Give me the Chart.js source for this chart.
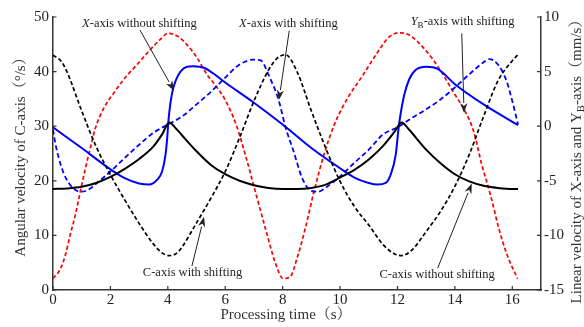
<!DOCTYPE html>
<html><head><meta charset="utf-8">
<script src="https://cdn.jsdelivr.net/npm/chart.js@4.4.1/dist/chart.umd.min.js"></script>
<style>html,body{margin:0;padding:0;background:#fff;}canvas{display:block;}</style>
</head><body>
<canvas id="c" width="584" height="327"></canvas>
<script>
// ---- tick labels ----
const xTicks = [0, 2, 4, 6, 8, 10, 12, 14, 16];
const leftTicks = [0, 10, 20, 30, 40, 50];
const rightTicks = [-15, -10, -5, 0, 5, 10];

// ---- C-axis without shifting (left axis, °/s) ----
const cNoShiftT = [0,0.5,1,1.5,2,2.5,3,3.5,3.8,4.05,4.3,4.5,5,5.5,6,6.5,7,7.5,8,8.5,9,9.5,10,10.5,11,11.5,11.9,12.15,12.4,12.5,13,13.5,14,14.5,15,15.5,16,16.2];
const cNoShiftV = [18.5,18.6,18.9,19.6,20.7,22.2,24.0,26.3,28.5,30.7,29.5,28.3,25.4,22.9,21.2,20.0,19.2,18.7,18.5,18.5,18.7,19.3,20.6,22.0,23.9,26.4,29.0,30.7,29.4,28.8,25.7,23.2,21.2,19.9,19.1,18.7,18.5,18.5];

// ---- C-axis with shifting (left axis, °/s) ----
const cShiftT = [0,0.3,0.5,1,1.5,2,2.5,3,3.5,3.8,4.05,4.3,4.5,5,5.5,6,6.5,7,7.5,7.8,8.1,8.5,9,9.5,10,10.5,11,11.5,11.9,12.15,12.5,13,13.5,14,14.5,15,15.5,16,16.2];
const cShiftV = [43.0,41.8,39.8,32.8,26.3,21.1,16.5,12.2,8.4,6.8,6.3,6.7,7.9,12.3,16.8,21.7,27.9,34.6,40.2,42.4,43.1,40.0,32.8,26.0,19.9,15.3,11.9,8.3,6.6,6.3,7.3,10.7,14.4,19.0,24.8,31.8,38.3,42.0,43.1];

// ---- X-axis without shifting (right axis, mm/s) ----
const xNoShiftT = [0,1,2,2.5,3,3.34,3.63,3.8,3.92,3.98,4.01,4.07,4.15,4.27,4.44,4.67,4.9,5.26,5.6,6,7,8,9,10,10.5,11,11.3,11.59,11.76,11.94,12.04,12.12,12.24,12.41,12.65,13,13.4,14,15,16.2];
const xNoShiftV = [-0.1,-2.0,-3.95,-4.75,-5.25,-5.35,-4.9,-4.15,-2.6,-1.05,0.15,1.7,3.05,4.15,5.0,5.45,5.5,5.35,4.8,4.0,2.15,0.15,-2.0,-3.85,-4.7,-5.2,-5.35,-5.2,-4.45,-2.6,-0.15,1.3,2.9,4.3,5.2,5.45,5.25,3.85,2.0,0.1];

// ---- X-axis with shifting (right axis, mm/s) ----
const xShiftT = [0,0.08,0.2,0.37,0.55,0.78,1.0,1.24,1.53,2,2.5,3,3.5,4,4.5,5,5.5,6,6.5,7.0,7.25,7.51,7.86,8.09,8.38,8.68,8.98,9.22,9.57,10,10.5,11,11.5,12,12.5,13,13.5,14,14.5,15,15.2,15.5,15.8,16,16.2];
const xShiftV = [-0.3,-1.55,-2.9,-4.3,-5.2,-5.85,-6.0,-5.8,-5.2,-4.15,-2.9,-1.7,-0.6,0.15,0.9,2.0,3.15,4.45,5.65,6.1,6.0,4.7,2.4,0.0,-2.3,-4.75,-5.9,-6.0,-5.5,-4.6,-3.35,-2.15,-0.75,-0.1,0.75,1.55,2.45,3.55,4.75,5.85,6.15,5.65,4.15,2.3,0.15];

// ---- YB-axis with shifting (right axis, mm/s) ----
const yShiftT = [0,0.26,0.43,0.6,0.78,0.95,1.13,1.3,1.48,1.77,2.12,2.47,2.93,3.4,3.74,4.0,4.33,4.67,5.02,5.37,5.66,6.02,6.38,6.73,7.08,7.43,7.73,8.02,8.26,8.5,8.79,9.09,9.44,9.8,10.27,10.74,11.24,11.7,12.06,12.41,13.0,13.47,14.0,14.35,14.65,14.94,15.24,15.53,15.82,16.18];
const yShiftV = [-13.95,-13.05,-11.8,-9.95,-8.1,-6.0,-3.85,-2.0,-0.15,1.65,3.05,4.3,5.65,7.05,7.95,8.5,8.25,7.45,6.25,4.7,3.75,2.3,0.15,-2.9,-6.3,-9.65,-12.4,-13.95,-13.8,-12.1,-9.35,-6.0,-2.6,0.15,2.6,4.45,6.5,8.15,8.55,8.35,6.9,5.2,2.9,1.4,-0.45,-3.55,-6.3,-9.35,-11.8,-13.95];

// ---- annotations (positions in data units of x / left axis) ----
const annotations = [
  {parts:[{t:'X',it:true},{t:'-axis without shifting'}], at:[3.01,48.75], from:[3.03,47.6], to:[4.215,36.5]},
  {parts:[{t:'X',it:true},{t:'-axis with shifting'}], at:[8.2,48.75], from:[8.23,47.5], to:[7.87,34.8]},
  {parts:[{t:'Y',it:true},{t:'B',sub:true},{t:'-axis with shifting'}], at:[14.27,49.1], from:[14.24,47.0], to:[14.32,32.4]},
  {parts:[{t:'C-axis with shifting'}], at:[4.86,3.1], from:[4.84,4.4], to:[5.26,13.4]},
  {parts:[{t:'C-axis without shifting'}], at:[13.38,2.75], from:[13.4,4.0], to:[14.59,19.5]}
];

const SERIF = "'Liberation Serif','Times New Roman','Noto Serif CJK SC','Noto Sans CJK SC',serif";
const pts = (ts, vs) => ts.map((t, i) => ({x: t, y: vs[i]}));

function drawParts(ctx, parts, cx, cy, size) {
  const fontOf = p => (p.it ? 'italic ' : '') + (p.sub ? size * 0.72 : size) + 'px ' + SERIF;
  let total = 0;
  parts.forEach(p => { ctx.font = fontOf(p); p._w = ctx.measureText(p.t).width; total += p._w; });
  let x = cx - total / 2;
  ctx.textAlign = 'left'; ctx.textBaseline = 'middle';
  parts.forEach(p => {
    ctx.font = fontOf(p);
    ctx.fillText(p.t, x, cy + (p.sub ? size * 0.3 : 0));
    x += p._w;
  });
}

const deco = {
  id: 'deco',
  afterDraw(chart) {
    const {ctx, chartArea: a, scales: {x, y, y2}} = chart;
    ctx.save();
    // tick marks
    ctx.strokeStyle = '#333'; ctx.lineWidth = 1.2;
    ctx.beginPath();
    xTicks.forEach(v => { const p = x.getPixelForValue(v); ctx.moveTo(p, a.bottom); ctx.lineTo(p, a.bottom - 4); });
    leftTicks.forEach(v => { const p = y.getPixelForValue(v); ctx.moveTo(a.left, p); ctx.lineTo(a.left + 3.5, p); });
    rightTicks.forEach(v => { const p = y2.getPixelForValue(v); ctx.moveTo(a.right, p); ctx.lineTo(a.right - 4, p); });
    ctx.stroke();

    // axis titles
    ctx.fillStyle = '#333';
    drawParts(ctx, [{t:'Processing time（s）'}], 286, 315, 15);
    ctx.save(); ctx.translate(21, 153.5); ctx.rotate(-Math.PI / 2);
    drawParts(ctx, [{t:'Angular velocity of C-axis（°/s）'}], 0, 0, 15);
    ctx.restore();
    ctx.save(); ctx.translate(577, 158); ctx.rotate(-Math.PI / 2);
    drawParts(ctx, [{t:'Linear velocity of X-axis and Y'},{t:'B',sub:true},{t:'-axis（mm/s）'}], 0, 0, 15);
    ctx.restore();

    // annotations
    ctx.fillStyle = '#222'; ctx.strokeStyle = '#222'; ctx.lineWidth = 1;
    annotations.forEach(an => {
      drawParts(ctx, an.parts, x.getPixelForValue(an.at[0]), y.getPixelForValue(an.at[1]), 12.5);
      const x1 = x.getPixelForValue(an.from[0]), y1 = y.getPixelForValue(an.from[1]);
      const x2 = x.getPixelForValue(an.to[0]), y2p = y.getPixelForValue(an.to[1]);
      const ang = Math.atan2(y2p - y1, x2 - x1), L = 10, W = 3.6;
      const bx = x2 - L * Math.cos(ang), by = y2p - L * Math.sin(ang);
      ctx.beginPath(); ctx.moveTo(x1, y1); ctx.lineTo(bx, by); ctx.stroke();
      ctx.beginPath();
      ctx.moveTo(x2, y2p);
      ctx.lineTo(bx + W * Math.sin(ang), by - W * Math.cos(ang));
      ctx.lineTo(x2 - 0.7 * L * Math.cos(ang), y2p - 0.7 * L * Math.sin(ang));
      ctx.lineTo(bx - W * Math.sin(ang), by + W * Math.cos(ang));
      ctx.closePath(); ctx.fill();
    });
    ctx.restore();
  }
};

const common = {pointRadius: 0, fill: false, cubicInterpolationMode: 'monotone', borderCapStyle: 'butt'};

new Chart(document.getElementById('c'), {
  type: 'line',
  data: {
    datasets: [
      {...common, label: 'C-axis without shifting', data: pts(cNoShiftT, cNoShiftV), yAxisID: 'y', borderColor: '#000', borderWidth: 2},
      {...common, label: 'C-axis with shifting', data: pts(cShiftT, cShiftV), yAxisID: 'y', borderColor: '#000', borderWidth: 1.7, borderDash: [4, 2.5]},
      {...common, label: 'X-axis without shifting', data: pts(xNoShiftT, xNoShiftV), yAxisID: 'y2', borderColor: '#0000ff', borderWidth: 2},
      {...common, label: 'X-axis with shifting', data: pts(xShiftT, xShiftV), yAxisID: 'y2', borderColor: '#0000ff', borderWidth: 1.8, borderDash: [5, 3]},
      {...common, label: 'YB-axis with shifting', data: pts(yShiftT, yShiftV), yAxisID: 'y2', borderColor: '#ff0000', borderWidth: 1.7, borderDash: [4, 2.5]}
    ]
  },
  options: {
    responsive: false, animation: false, devicePixelRatio: 1,
    layout: {padding: {top: 17, left: 0, right: 0, bottom: 0}},
    plugins: {legend: {display: false}, tooltip: {enabled: false}},
    scales: {
      x: {
        type: 'linear', min: 0, max: 17,
        afterBuildTicks: s => { s.ticks = xTicks.map(v => ({value: v})); },
        afterFit: s => { s.height = 37; },
        grid: {display: false, drawTicks: false},
        border: {display: true, color: '#333', width: 1.5},
        ticks: {font: {family: SERIF, size: 15}, color: '#222', padding: 1, maxRotation: 0, autoSkip: false}
      },
      y: {
        type: 'linear', position: 'left', min: 0, max: 50,
        afterBuildTicks: s => { s.ticks = leftTicks.map(v => ({value: v})); },
        afterFit: s => { s.width = 53; },
        grid: {display: false, drawTicks: false},
        border: {display: true, color: '#333', width: 1.5},
        ticks: {font: {family: SERIF, size: 15}, color: '#222', padding: 4}
      },
      y2: {
        type: 'linear', position: 'right', min: -15, max: 10,
        afterBuildTicks: s => { s.ticks = rightTicks.map(v => ({value: v})); },
        afterFit: s => { s.width = 43; },
        grid: {display: false, drawTicks: false},
        border: {display: true, color: '#333', width: 1.5},
        ticks: {font: {family: SERIF, size: 15}, color: '#222', padding: 3}
      }
    }
  },
  plugins: [deco]
});
</script>
</body></html>
